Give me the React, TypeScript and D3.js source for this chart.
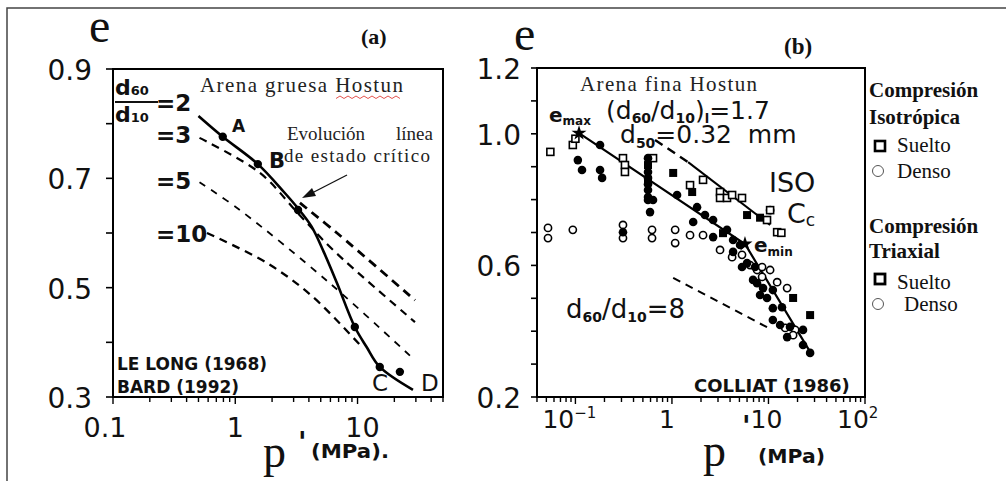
import React from 'react';
import * as d3 from 'd3';

const SANS = '"DejaVu Sans", Verdana, sans-serif';
const SERIF = '"Liberation Serif", "Times New Roman", serif';

// ---- panel (a): Arena gruesa Hostun (Le Long 1968, Bard 1992) ----
const cslCurve = [[0.5, 0.814], [0.79, 0.776], [1.53, 0.726], [2.5, 0.675], [3.26, 0.645], [4.2, 0.612], [5.3, 0.565], [6.8, 0.508], [9.5, 0.428], [11.9, 0.391], [15.2, 0.355], [28.4, 0.313]];
const cslDots = [[0.79, 0.776], [1.53, 0.726], [3.26, 0.642], [9.5, 0.428], [15.2, 0.355], [22.2, 0.346]];
const ratio2 = [[3.38, 0.655], [6.79, 0.6], [29.5, 0.477]];
const ratio3 = [[0.51, 0.774], [1.59, 0.71], [3.26, 0.636], [6.3, 0.569], [29.5, 0.437]];
const ratio5 = [[0.51, 0.693], [1.09, 0.642], [5.94, 0.508], [29.5, 0.367]];
const ratio10 = [[0.587, 0.6], [1.82, 0.545], [4.32, 0.483], [11.1, 0.389]];
const yLabelsA = [0.9, 0.7, 0.5, 0.3];
const xLabelsA = [{ v: 0.1, t: '0.1', dx: -8 }, { v: 1, t: '1', dx: 0 }, { v: 10, t: '10', dx: 5 }];

// ---- panel (b): Arena fina Hostun (Colliat 1986) ----
const isoLine = [[0.668, 0.981], [1.47, 0.914]];
const isoLineSolid = [[1.47, 0.914], [10.4, 0.723]];
const mainLine = [[0.109, 1.002], [5.71, 0.665], [28.2, 0.328]];
const ratio8 = [[1.03, 0.562], [10.9, 0.404]];
const stars = [[0.109, 1.002], [5.71, 0.665]];
const openSquares = [[0.055, 0.945], [0.094, 0.966], [0.1, 0.985], [0.311, 0.926], [0.326, 0.905], [0.326, 0.884], [0.637, 0.926], [1.54, 0.844], [2.1, 0.86], [3.15, 0.823], [3.15, 0.805], [3.72, 0.805], [4.2, 0.814], [5.32, 0.805], [10.4, 0.768], [9.66, 0.738], [12.3, 0.701], [13.6, 0.699]];
const filledSquares = [[1.03, 0.881], [0.565, 0.905], [0.565, 0.86], [1.62, 0.823], [6.0, 0.753], [8.18, 0.745], [18.0, 0.501], [27.0, 0.449], [3.38, 0.698]];
const filledCircles = [[0.106, 0.92], [0.117, 0.89], [0.18, 0.966], [0.18, 0.89], [0.189, 0.866], [0.565, 0.926], [0.565, 0.884], [0.565, 0.866], [0.565, 0.847], [0.565, 0.829], [0.565, 0.808], [0.565, 0.799], [0.637, 0.799], [0.593, 0.762], [1.13, 0.814], [1.82, 0.777], [1.66, 0.732], [2.67, 0.738], [2.67, 0.686], [3.72, 0.708], [4.3, 0.677], [5.08, 0.662], [4.3, 0.641], [5.32, 0.595], [6.0, 0.607], [7.26, 0.595], [6.92, 0.556], [7.62, 0.546], [8.79, 0.531], [11.1, 0.525], [8.18, 0.51], [9.66, 0.501], [11.1, 0.47], [13.8, 0.473], [11.1, 0.434], [13.2, 0.419], [16.7, 0.413], [22.8, 0.404], [15.6, 0.382], [22.8, 0.358], [27.0, 0.334], [0.311, 0.701], [2.2, 0.753]];
const openCircles = [[0.052, 0.714], [0.052, 0.683], [0.094, 0.708], [0.311, 0.723], [0.311, 0.683], [0.622, 0.708], [0.622, 0.683], [1.08, 0.708], [1.08, 0.668], [1.54, 0.692], [2.1, 0.692], [3.15, 0.647], [4.2, 0.625], [5.32, 0.632], [6.44, 0.601], [7.62, 0.586], [8.59, 0.595], [10.4, 0.586], [8.59, 0.565], [12.3, 0.549], [15.6, 0.531], [14.9, 0.41], [18.9, 0.404], [18.0, 0.388], [10.4, 0.768]];
const yLabelsB = [1.2, 1.0, 0.6, 0.2];

export default function App() {
  const xa = d3.scaleLog().domain([0.1, 50]).range([113, 443]);
  const ya = d3.scaleLinear().domain([0.3, 0.9]).range([397, 69]);
  const xb = d3.scaleLog().domain([0.04, 100]).range([537, 865]);
  const yb = d3.scaleLinear().domain([0.2, 1.2]).range([397, 68]);

  const curveA = d3.line<number[]>().x(d => xa(d[0])).y(d => ya(d[1])).curve(d3.curveCatmullRom.alpha(0.5));
  const lineB = d3.line<number[]>().x(d => xb(d[0])).y(d => yb(d[1]));
  const star = d3.symbol().type(d3.symbolStar).size(70)();

  const isMajor = (v: number) => Math.abs(Math.log10(v) - Math.round(Math.log10(v))) < 1e-6;

  return (
    <svg width={1006} height={481} style={{ position: 'absolute', left: 0, top: 0, background: '#fff' }}>
      <rect width={1006} height={481} fill="#fff" />
      {/* scan frame */}
      <path d="M7,481 V8 H1006" fill="none" stroke="#444" strokeWidth={1.5} />

      {/* ================= panel (a) ================= */}
      <rect x={113} y={69} width={330} height={328} fill="none" stroke="#000" strokeWidth={2} />
      {ya.ticks(6).map(v => (
        <line key={'ya' + v} x1={106} x2={113} y1={ya(v)} y2={ya(v)} stroke="#000" strokeWidth={1.6} />
      ))}
      {xa.ticks().map(v => (
        <line key={'xa' + v} x1={xa(v)} x2={xa(v)} y1={397} y2={397 + (isMajor(v) ? 7 : 5)} stroke="#000" strokeWidth={1.4} />
      ))}
      {yLabelsA.map(v => (
        <text key={'yla' + v} x={92} y={ya(v) + 11} textAnchor="end" fontFamily={SANS} fontSize={28} fill="#111">{v.toFixed(1)}</text>
      ))}
      {xLabelsA.map(d => (
        <text key={'xla' + d.t} x={xa(d.v) + d.dx} y={437} textAnchor="middle" fontFamily={SANS} fontSize={27} fill="#111">{d.t}</text>
      ))}
      <text x={89} y={42} fontFamily={SERIF} fontSize={48} fill="#111">e</text>
      <text x={361} y={44} fontFamily={SERIF} fontSize={22} fontWeight="bold" fill="#111">(a)</text>
      <text x={263} y={467} fontFamily={SERIF} fontSize={46} fill="#111">p</text>
      <text x={298} y={452} fontFamily={SANS} fontSize={28} fontWeight="bold" fill="#111">'</text>
      <text x={311} y={458} fontFamily={SANS} fontSize={19} fontWeight="bold" fill="#111" textLength={78} lengthAdjust="spacingAndGlyphs">(MPa).</text>

      {/* dashed grading lines */}
      <path d={curveA(ratio2) || ''} fill="none" stroke="#000" strokeWidth={2.8} strokeDasharray="9,6" />
      <path d={curveA(ratio3) || ''} fill="none" stroke="#000" strokeWidth={2.2} strokeDasharray="8,6" />
      <path d={curveA(ratio5) || ''} fill="none" stroke="#000" strokeWidth={1.8} strokeDasharray="7,7" />
      <path d={curveA(ratio10) || ''} fill="none" stroke="#000" strokeWidth={2.3} strokeDasharray="8,6" />
      <path d={curveA(cslCurve) || ''} fill="none" stroke="#000" strokeWidth={2.6} />
      {cslDots.map((d, i) => (
        <circle key={'cd' + i} cx={xa(d[0])} cy={ya(d[1])} r={4.2} fill="#000" />
      ))}

      {/* ratio labels */}
      <text x={115} y={95} fontFamily={SANS} fontWeight="bold" fill="#111">
        <tspan fontSize={22}>d</tspan><tspan fontSize={13}>60</tspan>
      </text>
      <line x1={115} x2={158} y1={102} y2={102} stroke="#111" strokeWidth={1.8} />
      <text x={115} y={122} fontFamily={SANS} fontWeight="bold" fill="#111">
        <tspan fontSize={22}>d</tspan><tspan fontSize={13}>10</tspan>
      </text>
      <text x={156} y={111} fontFamily={SANS} fontSize={23} fontWeight="bold" fill="#111">=2</text>
      <text x={156} y={143} fontFamily={SANS} fontSize={23} fontWeight="bold" fill="#111">=3</text>
      <text x={156} y={189} fontFamily={SANS} fontSize={23} fontWeight="bold" fill="#111">=5</text>
      <text x={156} y={242} fontFamily={SANS} fontSize={23} fontWeight="bold" fill="#111">=10</text>

      <text x={200} y={92} fontFamily={SERIF} fontSize={21} fill="#222" textLength={203} lengthAdjust="spacing">Arena gruesa Hostun</text>
      <path d={d3.range(0, 17).map(i => `${i === 0 ? 'M' : 'L'}${336 + i * 4},${i % 2 ? 96 : 98.5}`).join(' ')} fill="none" stroke="#e0413a" strokeWidth={0.9} />
      <text x={232} y={132} fontFamily={SANS} fontSize={17} fontWeight="bold" fill="#111">A</text>
      <text x={269} y={168} fontFamily={SANS} fontSize={21} fontWeight="bold" fill="#111">B</text>
      <text x={287} y={140} fontFamily={SERIF} fontSize={19} fill="#222">Evolución</text>
      <text x={396} y={140} fontFamily={SERIF} fontSize={19} fill="#222">línea</text>
      <text x={284} y={162} fontFamily={SERIF} fontSize={19} fill="#222" textLength={146} lengthAdjust="spacing">de estado crítico</text>
      <line x1={347} y1={175} x2={312} y2={193} stroke="#111" strokeWidth={1.3} />
      <path d="M302,198 L312,188 L316,196 Z" fill="#111" />

      <text x={117} y={370} fontFamily={SANS} fontSize={17} fontWeight="bold" fill="#111">LE LONG (1968)</text>
      <text x={117} y={393} fontFamily={SANS} fontSize={17} fontWeight="bold" fill="#111">BARD (1992)</text>
      <text x={372} y={391} fontFamily={SANS} fontSize={23} fill="#111">C</text>
      <text x={421} y={391} fontFamily={SANS} fontSize={23} fill="#111">D</text>

      {/* ================= panel (b) ================= */}
      <rect x={537} y={68} width={328} height={329} fill="none" stroke="#000" strokeWidth={2} />
      {yb.ticks(10).map(v => (
        <line key={'yb' + v} x1={531} x2={537} y1={yb(v)} y2={yb(v)} stroke="#000" strokeWidth={1.6} />
      ))}
      {xb.ticks().map(v => (
        <line key={'xb' + v} x1={xb(v)} x2={xb(v)} y1={397} y2={397 + (isMajor(v) ? 7 : 5)} stroke="#000" strokeWidth={1.4} />
      ))}
      {yLabelsB.map(v => (
        <text key={'ylb' + v} x={521} y={yb(v) + 11} textAnchor="end" fontFamily={SANS} fontSize={28} fill="#111">{v.toFixed(1)}</text>
      ))}
      <text x={xb(0.1) - 33} y={428} fontFamily={SANS} fontSize={25} fill="#111">10<tspan fontSize={15} dy={-10}>−1</tspan></text>
      <text x={xb(1) - 5} y={428} textAnchor="middle" fontFamily={SANS} fontSize={25} fill="#111">1</text>
      <text x={xb(10) - 2} y={428} textAnchor="middle" fontFamily={SANS} fontSize={25} fill="#111">10</text>
      <text x={xb(100) - 28} y={428} fontFamily={SANS} fontSize={25} fill="#111">10<tspan fontSize={15} dy={-10}>2</tspan></text>
      <text x={514} y={50} fontFamily={SERIF} fontSize={48} fill="#111">e</text>
      <text x={784} y={54} fontFamily={SERIF} fontSize={23} fontWeight="bold" fill="#111">(b)</text>
      <text x={703} y={466} fontFamily={SERIF} fontSize={46} fill="#111">p</text>
      <text x={742} y={436} fontFamily={SANS} fontSize={28} fontWeight="bold" fill="#111">'</text>
      <text x={758} y={463} fontFamily={SANS} fontSize={19} fontWeight="bold" fill="#111" textLength={67} lengthAdjust="spacingAndGlyphs">(MPa)</text>

      {/* lines */}
      <path d={lineB(isoLine) || ''} fill="none" stroke="#000" strokeWidth={2.4} strokeDasharray="9,6" />
      <path d={lineB(isoLineSolid) || ''} fill="none" stroke="#000" strokeWidth={2} />
      <path d={lineB(mainLine) || ''} fill="none" stroke="#000" strokeWidth={2.2} />
      <path d={lineB(ratio8) || ''} fill="none" stroke="#000" strokeWidth={2} strokeDasharray="8,6" />

      {/* points */}
      {openCircles.map((d, i) => (
        <circle key={'oc' + i} cx={xb(d[0])} cy={yb(d[1])} r={3.6} fill="#fff" stroke="#000" strokeWidth={1.6} />
      ))}
      {openSquares.map((d, i) => (
        <rect key={'os' + i} x={xb(d[0]) - 3.5} y={yb(d[1]) - 3.5} width={7} height={7} fill="#fff" stroke="#000" strokeWidth={1.6} />
      ))}
      {filledSquares.map((d, i) => (
        <rect key={'fs' + i} x={xb(d[0]) - 4} y={yb(d[1]) - 4} width={8} height={8} fill="#000" />
      ))}
      {filledCircles.map((d, i) => (
        <circle key={'fc' + i} cx={xb(d[0])} cy={yb(d[1])} r={4.3} fill="#000" />
      ))}
      {stars.map((d, i) => (
        <path key={'st' + i} d={star || ''} transform={`translate(${xb(d[0])},${yb(d[1])})`} fill="#000" />
      ))}

      {/* annotations */}
      <text x={580} y={91} fontFamily={SERIF} fontSize={21} fill="#222" textLength={177} lengthAdjust="spacing">Arena fina Hostun</text>
      <text x={606} y={119} fontFamily={SANS} fontSize={25} fill="#111">
        (d<tspan fontSize={14} fontWeight="bold" dy={4}>60</tspan><tspan dy={-4}>/d</tspan><tspan fontSize={14} fontWeight="bold" dy={4}>10</tspan><tspan dy={-4}>)</tspan><tspan fontSize={13} fontWeight="bold" dy={4}>l</tspan><tspan dy={-4}>=1.7</tspan>
      </text>
      <text x={620} y={143} fontFamily={SANS} fontSize={25} fill="#111">
        d<tspan fontSize={14} fontWeight="bold" dy={5}>50</tspan><tspan dy={-5} style={{ whiteSpace: 'pre' }}>=0.32  mm</tspan>
      </text>
      <text x={549} y={122} fontFamily={SANS} fontSize={20} fontWeight="bold" fill="#111">
        e<tspan fontSize={12} dy={3}>max</tspan>
      </text>
      <text x={769} y={192} fontFamily={SANS} fontSize={27} fill="#111">ISO</text>
      <text x={787} y={223} fontFamily={SANS} fontSize={27} fill="#111">
        C<tspan fontSize={17} dy={3}>c</tspan>
      </text>
      <text x={754} y={252} fontFamily={SANS} fontSize={20} fontWeight="bold" fill="#111">
        e<tspan fontSize={12} dy={4}>min</tspan>
      </text>
      <text x={566} y={318} fontFamily={SANS} fontSize={26} fill="#111">
        d<tspan fontSize={14} fontWeight="bold" dy={4}>60</tspan><tspan dy={-4}>/d</tspan><tspan fontSize={14} fontWeight="bold" dy={4}>10</tspan><tspan dy={-4}>=8</tspan>
      </text>
      <text x={694} y={392} fontFamily={SANS} fontSize={18} fontWeight="bold" fill="#111">COLLIAT (1986)</text>

      {/* ================= legend ================= */}
      <g fontFamily={SERIF} fill="#111">
        <text x={869} y={97} fontSize={21} fontWeight="bold">Compresión</text>
        <text x={869} y={124} fontSize={21} fontWeight="bold">Isotrópica</text>
        <rect x={875} y={141} width={10} height={10} fill="#fff" stroke="#000" strokeWidth={2.6} />
        <text x={897} y={152} fontSize={21}>Suelto</text>
        <circle cx={878} cy={171} r={5.5} fill="#fff" stroke="#555" strokeWidth={1} />
        <text x={897} y={178} fontSize={21}>Denso</text>
        <text x={869} y={233} fontSize={21} fontWeight="bold">Compresión</text>
        <text x={869} y={258} fontSize={21} fontWeight="bold">Triaxial</text>
        <rect x={875} y={274} width={10} height={10} fill="#fff" stroke="#000" strokeWidth={2.8} />
        <text x={897} y={289} fontSize={21}>Suelto</text>
        <circle cx={878} cy={304} r={5.5} fill="#fff" stroke="#555" strokeWidth={1} />
        <text x={904} y={311} fontSize={21}>Denso</text>
      </g>
    </svg>
  );
}
